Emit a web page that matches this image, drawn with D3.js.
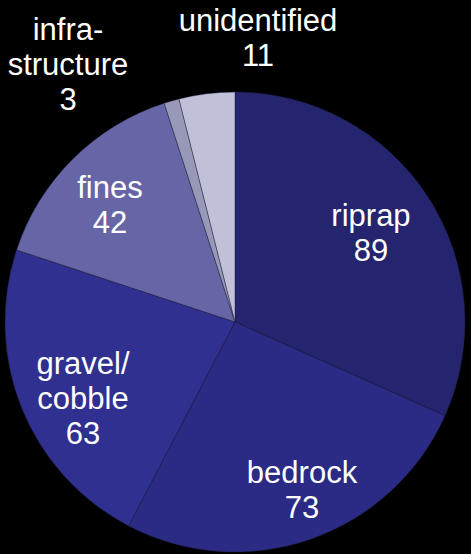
<!DOCTYPE html>
<html>
<head>
<meta charset="utf-8">
<script src="https://cdn.jsdelivr.net/npm/d3@7"></script>
<style>
  html, body { margin: 0; padding: 0; background: #000; }
  svg { display: block; }
</style>
</head>
<body>
<svg id="chart" width="471" height="554"></svg>
<script>
// Shoreline substrate counts, clockwise from 12 o'clock
const categories = ["riprap", "bedrock", "gravel/cobble", "fines", "infrastructure", "unidentified"];
const counts = [89, 73, 63, 42, 3, 11];
const labelLines = [["riprap"], ["bedrock"], ["gravel/", "cobble"], ["fines"], ["infra-", "structure"], ["unidentified"]];
const colors = ["#25246e", "#2b2a85", "#303090", "#6666a6", "#9898b8", "#c0c0d8"];

const W = 471, H = 554;
const cx = 235, cy = 322, R = 230;
const fontSize = 31, lineH = 35;

// Label anchor: centre x and first-line baseline, per slice
const labelAnchor = {
  "riprap":        { x: 371, y: 226 },
  "bedrock":       { x: 302, y: 483 },
  "gravel/cobble": { x: 83,  y: 374 },
  "fines":         { x: 110, y: 198 },
  "infrastructure":{ x: 68,  y: 40 },
  "unidentified":  { x: 258, y: 31 }
};

const data = categories.map((c, i) => ({ name: c, value: counts[i], lines: labelLines[i], color: colors[i] }));

const svg = d3.select("#chart");
const g = svg.append("g").attr("transform", `translate(${cx},${cy})`);

const pie = d3.pie().sort(null).value(d => d.value).startAngle(0).endAngle(2 * Math.PI);
const arc = d3.arc().innerRadius(0).outerRadius(R);

g.selectAll("path.slice")
  .data(pie(data))
  .join("path")
  .attr("class", "slice")
  .attr("d", arc)
  .attr("fill", d => d.data.color)
  .attr("stroke", "rgba(30,30,60,0.55)")
  .attr("stroke-width", 0.8);

const labels = svg.append("g")
  .attr("font-family", "'Liberation Sans', Arial, sans-serif")
  .attr("font-size", fontSize)
  .attr("fill", "#fff")
  .attr("text-anchor", "middle");

data.forEach(d => {
  const a = labelAnchor[d.name];
  const lines = d.lines.concat([String(d.value)]);
  const t = labels.append("text").attr("x", a.x).attr("y", a.y);
  lines.forEach((ln, i) => {
    t.append("tspan").attr("x", a.x).attr("dy", i === 0 ? 0 : lineH).text(ln);
  });
});
</script>
</body>
</html>
